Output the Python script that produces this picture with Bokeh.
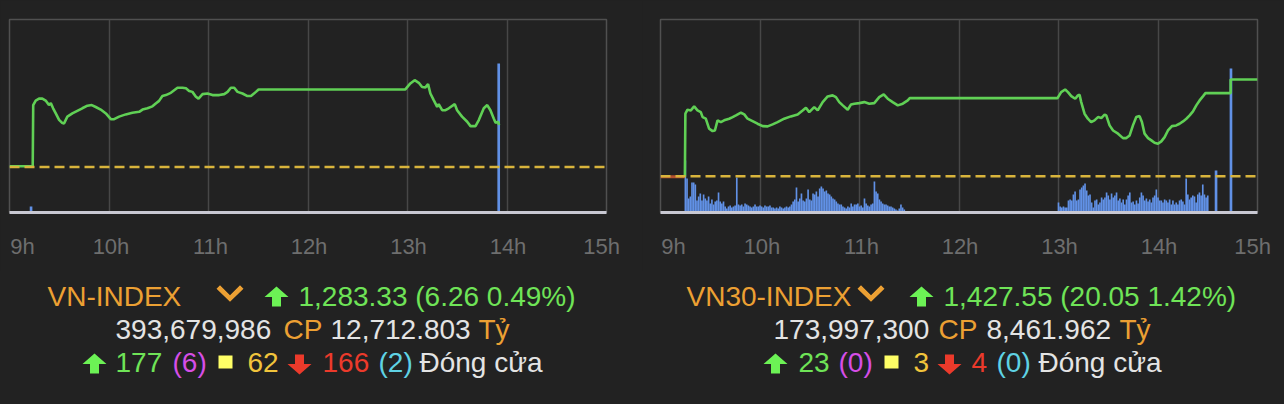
import numpy as np
from bokeh.plotting import figure
from bokeh.models import (Range1d, LinearAxis, FixedTicker, CustomJSTickFormatter,
                          Span, Label, Grid, PolyAnnotation)
from bokeh.layouts import row, column
from bokeh.embed import file_html
from bokeh.resources import INLINE

# ---------------- data ----------------
TICK_HOURS = [9, 10, 11, 12, 13, 14, 15]
TICK_LABELS = ["9h", "10h", "11h", "12h", "13h", "14h", "15h"]
LABEL_NUDGE = [0.13, 0.02, 0.02, 0.01, 0.01, 0.01, -0.05]   # label placement (hours)

# VN-INDEX intraday (minutes after 9:00, index points)
VN_REF = 1277.07
VN_T = [0, 14, 14.3, 15.8, 17.8, 19.8, 21.8, 23.8, 24.9, 26.3, 27.9, 29.9, 31.9, 32.9,
        34.9, 37.9, 40.9, 43.9, 47.0, 49.6, 52.0, 55.0, 58.1, 61.1, 63.1, 66.1, 70.1,
        74.1, 78.2, 80.2, 83.2, 86.2, 88.2, 90.2, 92.2, 94.3, 97.3, 99.3, 101.3, 104.3,
        106.4, 108.3, 110.3, 112.4, 114.0, 116.4, 119.4, 122.4, 126.5, 129.5, 131.5,
        133.5, 135.5, 137.5, 140.5, 143.5, 145.6, 148.6, 150.2, 238.7, 241.7, 244.3,
        246.8, 248.8, 250.8, 252.4, 253.8, 255.8, 257.9, 258.8, 260.9, 262.9, 264.9,
        268.5, 269.9, 272.9, 276.0, 278.0, 281.0, 283.0, 286.0, 288.1, 290.0, 292.0,
        293.1, 294.7, 295.2]
VN_V = [1277.2, 1277.2, 1286.7, 1287.4, 1287.7, 1287.7, 1287.4, 1286.7, 1287.0, 1286.2,
        1285.4, 1284.4, 1283.9, 1283.85, 1284.9, 1285.4, 1285.8, 1286.2, 1286.6, 1286.7,
        1286.4, 1286.0, 1285.4, 1284.5, 1284.5, 1284.9, 1285.25, 1285.5, 1285.65, 1286.0,
        1286.2, 1286.5, 1286.95, 1287.35, 1288.1, 1288.25, 1288.6, 1289.0, 1289.4, 1289.4,
        1289.3, 1288.9, 1288.75, 1288.0, 1287.7, 1288.4, 1288.5, 1288.25, 1288.25, 1288.4,
        1288.75, 1289.4, 1289.4, 1288.75, 1288.5, 1288.1, 1288.1, 1288.75, 1289.13, 1289.13,
        1290.06, 1290.57, 1290.16, 1289.5, 1289.44, 1289.95, 1288.5, 1287.47, 1286.43,
        1286.85, 1285.9, 1285.9, 1286.2, 1286.85, 1285.9, 1284.9, 1284.1, 1283.43, 1283.43,
        1284.36, 1286.2, 1286.7, 1285.9, 1284.6, 1283.95, 1284.1, 1283.6]
VN_VOL_T = [13, 295]
VN_VOL = [6, 149]

# VN30-INDEX intraday
V30_REF = 1407.5
V30_PRE_T = [0, 14.7]
V30_PRE_V = [1407.4, 1407.4]
V30_T = [14.7, 15.0, 16.3, 18.3, 20.3, 22.3, 24.3, 25.4, 27.3, 29.3, 31.4, 32.8, 34.4,
         36.4, 38.4, 41.4, 43.5, 45.5, 48.5, 50.5, 52.5, 55.5, 58.5, 61.6, 64.6, 67.6,
         70.6, 74.6, 78.6, 82.7, 85.7, 87.7, 89.7, 92.7, 94.8, 97.8, 100.8, 103.8, 105.8,
         107.8, 109.9, 112.9, 114.9, 116.9, 119.9, 122.9, 125.9, 128.9, 131.9, 134.6,
         137.0, 140.0, 143.1, 146.1, 149.1, 150.3, 239.4, 241.6, 244.0, 245.7, 247.7,
         250.1, 251.7, 252.7, 253.7, 255.7, 257.7, 259.7, 261.7, 263.8, 265.8, 267.8,
         268.8, 270.8, 272.9, 275.9, 278.9, 280.9, 282.9, 284.9, 286.9, 288.9, 290.3,
         291.9, 294.0, 296.0, 297.9, 300.0, 302.0, 304.0, 306.0, 308.4, 311.0, 313.0,
         315.1, 317.1, 319.1, 321.1, 323.1, 325.1, 327.2, 328.6, 343.8, 343.8, 360.0]
V30_V = [1407.4, 1420.48, 1421.3, 1421.16, 1421.99, 1421.16, 1420.8, 1419.77, 1419.44,
         1417.37, 1416.88, 1417.0, 1419.1, 1418.74, 1419.1, 1419.44, 1419.77, 1420.12,
         1420.68, 1420.33, 1419.44, 1418.94, 1418.4, 1417.9, 1417.85, 1418.26, 1418.74,
         1419.44, 1419.92, 1420.33, 1421.16, 1421.72, 1420.8, 1421.84, 1421.16, 1422.88,
         1424.06, 1424.27, 1423.91, 1422.88, 1422.2, 1421.3, 1422.4, 1422.55, 1422.67,
         1422.88, 1422.55, 1422.67, 1423.91, 1424.47, 1423.58, 1422.88, 1422.2, 1422.55,
         1423.23, 1423.7, 1423.7, 1424.95, 1425.5, 1424.95, 1424.12, 1423.58, 1424.27,
         1424.4, 1422.88, 1420.48, 1419.44, 1418.74, 1419.1, 1419.77, 1419.57, 1420.27,
         1420.12, 1418.06, 1417.0, 1416.34, 1415.42, 1415.42, 1415.98, 1418.06, 1419.77,
         1419.98, 1418.74, 1416.34, 1415.42, 1414.95, 1414.47, 1414.26, 1414.74, 1415.63,
         1417.0, 1417.9, 1418.05, 1418.4, 1418.88, 1419.44, 1420.12, 1420.95, 1422.2,
         1423.23, 1424.12, 1424.74, 1424.74, 1427.55, 1427.55]
V30_VOL_AM_START = 15
V30_VOL_AM = [52, 34, 14, 16, 30, 30, 28, 12, 16, 19, 12, 18, 14, 12, 16, 9, 13, 8, 11, 12,
              20, 11, 9, 11, 6, 4, 6, 7, 5, 6, 7, 35, 8, 7, 8, 6, 9, 8, 7, 6,
              5, 6, 8, 6, 6, 7, 6, 5, 7, 6, 6, 7, 5, 5, 4, 5, 4, 6, 5, 4,
              5, 6, 5, 6, 8, 11, 13, 25, 11, 14, 19, 12, 11, 14, 23, 13, 12, 19, 18, 21,
              16, 24, 26, 24, 21, 22, 19, 18, 16, 14, 13, 11, 9, 8, 8, 6, 5, 4, 6, 5,
              9, 6, 8, 8, 9, 6, 7, 5, 14, 9, 7, 6, 8, 9, 31, 21, 19, 13, 11, 9,
              8, 8, 7, 6, 6, 5, 4, 3, 2, 4, 8, 5, 3, 1]
V30_VOL_PM_START = 240
V30_VOL_PM = [10, 6, 5, 6, 5, 5, 12, 13, 12, 18, 21, 12, 13, 23, 25, 27, 29, 22, 17, 18,
              10, 5, 12, 13, 8, 10, 15, 13, 15, 20, 17, 13, 19, 15, 17, 20, 12, 14, 10, 13,
              8, 13, 17, 20, 10, 11, 8, 12, 9, 15, 20, 17, 12, 14, 11, 13, 10, 15, 17, 23,
              15, 12, 12, 10, 13, 12, 10, 13, 8, 12, 8, 10, 8, 12, 13, 11, 8, 34, 18, 13,
              15, 17, 16, 10, 18, 20, 17, 28, 18, 15, 17]
V30_VOL_X_T = [335, 344]
V30_VOL_X = [42, 144]

VOL_MAX = 193

# text rows
VN_NAME, VN_LAST = "VN-INDEX", "1,283.33 (6.26 0.49%)"
VN_QTY, VN_VAL = "393,679,986", "12,712.803"
VN_UP, VN_CEIL, VN_FLAT, VN_DOWN, VN_FLOOR = "177", "(6)", "62", "166", "(2)"
V30_NAME, V30_LAST = "VN30-INDEX", "1,427.55 (20.05 1.42%)"
V30_QTY, V30_VAL = "173,997,300", "8,461.962"
V30_UP, V30_CEIL, V30_FLAT, V30_DOWN, V30_FLOOR = "23", "(0)", "3", "4", "(0)"
STATUS = "Đóng cửa"

# ---------------- style ----------------
BG = "#222222"
GRID = "#474747"
LINE_GREEN = "#60d055"
DASH = "#d8b43c"
BAR = "#6191e6"
ORANGE = "#eca033"
TXT_GREEN = "#6fe457"
ARR_GREEN = "#6cf255"
WHITE = "#e4e4e4"
MAGENTA = "#d64ee6"
SQ_YELLOW = "#ffff66"
YELLOW = "#f1c43c"
RED = "#ec3a2b"
CYAN = "#5fd2e4"
TICK = "#6e6e6e"
FONT = "Liberation Sans"

# icon outlines (px, x right / y up from the icon's lower-left corner)
ICON_UP = [(0, 9.5), (12, 20), (24, 9.5), (16.5, 9.5), (16.5, 0), (7.5, 0), (7.5, 9.5)]
ICON_DOWN = [(7.5, 20), (16.5, 20), (16.5, 10.5), (24, 10.5), (12, 0), (0, 10.5), (7.5, 10.5)]
ICON_CHEV = [(0, 12.5), (3.5, 16), (13.5, 6), (23.5, 16), (27, 12.5), (13.5, -0.5)]
ICON_SQ = [(0, 0), (14, 0), (14, 13), (0, 13)]

TEXT_H = 132
ROW_Y = [106.5, 73, 39.8]   # text anchor heights, px above the bottom of the text strip


def hours(m):
    return 9 + np.asarray(m, dtype=float) / 60.0


def base_panel(width, yr, ref, bl, br):
    p = figure(width=width, height=270, output_backend="svg", toolbar_location=None,
               x_range=Range1d(9, 15), y_range=Range1d(*yr),
               x_axis_location=None, y_axis_location=None,
               min_border_left=bl, min_border_right=br, min_border_top=19,
               min_border_bottom=58)
    p.background_fill_color = BG
    p.border_fill_color = BG
    p.outline_line_color = "#505050"
    p.outline_line_width = 1.5
    p.grid.visible = False
    p.add_layout(Grid(dimension=0, ticker=FixedTicker(ticks=TICK_HOURS[1:-1]),
                      grid_line_color=GRID, grid_line_width=1.5))
    p.extra_y_ranges = {"vol": Range1d(0, VOL_MAX)}
    label_pos = [h + n for h, n in zip(TICK_HOURS, LABEL_NUDGE)]
    ax = LinearAxis(ticker=FixedTicker(ticks=label_pos),
                    formatter=CustomJSTickFormatter(args=dict(names=TICK_LABELS),
                                                    code="return names[index]"),
                    axis_line_color="#c8c8d2", axis_line_width=3,
                    major_tick_line_color=None, minor_tick_line_color=None,
                    major_label_text_color=TICK, major_label_text_font_size="22px",
                    major_label_text_font=FONT, major_label_standoff=15)
    p.add_layout(ax, "below")
    p.add_layout(Span(location=ref, dimension="width", line_color=DASH,
                      line_width=2.5, line_dash="10 5"))
    return p


def text_strip(width, items, icons):
    t = figure(width=width, height=TEXT_H, output_backend="svg", toolbar_location=None,
               x_range=Range1d(0, 1), y_range=Range1d(0, 1),
               x_axis_location=None, y_axis_location=None,
               min_border=0, min_border_left=0, min_border_right=0,
               min_border_top=0, min_border_bottom=0)
    t.background_fill_color = BG
    t.border_fill_color = BG
    t.outline_line_color = None
    t.grid.visible = False
    for txt, x, r, color in items:
        t.add_layout(Label(x=x, y=ROW_Y[r], x_units="screen", y_units="screen",
                           text=txt, text_color=color, text_font=FONT,
                           text_font_size="28px", text_baseline="alphabetic",
                           text_align="left"))
    for shape, x0, y0, color in icons:
        t.add_layout(PolyAnnotation(xs=[x0 + a for a, b in shape],
                                    ys=[y0 + b for a, b in shape],
                                    xs_units="screen", ys_units="screen",
                                    fill_color=color, fill_alpha=1.0, line_color=None))
    return t


# ---------------- left: VN-INDEX ----------------
p1 = base_panel(642, (1270, 1300), VN_REF, 9, 36)
p1.vbar(x=hours(VN_VOL_T), top=VN_VOL, bottom=0, width=1.6 / 60, y_range_name="vol",
        fill_color=BAR, line_color=None)
p1.line(hours(VN_T), VN_V, line_color=LINE_GREEN, line_width=2.6)
t1 = text_strip(642, [
    (VN_NAME, 47, 0, ORANGE), (VN_LAST, 298, 0, TXT_GREEN),
    (VN_QTY, 115, 1, WHITE), ("CP", 283, 1, ORANGE), (VN_VAL, 330, 1, WHITE),
    ("Tỷ", 478, 1, ORANGE),
    (VN_UP, 115, 2, TXT_GREEN), (VN_CEIL, 172, 2, MAGENTA), (VN_FLAT, 247, 2, YELLOW),
    (VN_DOWN, 322, 2, RED), (VN_FLOOR, 378, 2, CYAN), (STATUS, 419, 2, WHITE),
], [
    (ICON_CHEV, 216, 101.3, ORANGE), (ICON_UP, 264, 96, ARR_GREEN),
    (ICON_UP, 82, 29, ARR_GREEN), (ICON_SQ, 218, 34, SQ_YELLOW),
    (ICON_DOWN, 287, 28, RED),
])

# ---------------- right: VN30-INDEX ----------------
p2 = base_panel(640, (1400, 1440), V30_REF, 18, 25)
am_t = V30_VOL_AM_START + np.arange(len(V30_VOL_AM))
pm_t = V30_VOL_PM_START + np.arange(len(V30_VOL_PM))
p2.vbar(x=hours(am_t), top=V30_VOL_AM, bottom=0, width=1.0 / 60, y_range_name="vol",
        fill_color=BAR, line_color=None)
p2.vbar(x=hours(pm_t), top=V30_VOL_PM, bottom=0, width=1.0 / 60, y_range_name="vol",
        fill_color=BAR, line_color=None)
p2.vbar(x=hours(V30_VOL_X_T), top=V30_VOL_X, bottom=0, width=1.6 / 60, y_range_name="vol",
        fill_color=BAR, line_color=None)
p2.line(hours(V30_PRE_T), V30_PRE_V, line_color="#b4502e", line_width=3)
p2.line(hours(V30_T), V30_V, line_color=LINE_GREEN, line_width=2.6)
t2 = text_strip(640, [
    (V30_NAME, 44, 0, ORANGE), (V30_LAST, 301, 0, TXT_GREEN),
    (V30_QTY, 131, 1, WHITE), ("CP", 296, 1, ORANGE), (V30_VAL, 344, 1, WHITE),
    ("Tỷ", 477, 1, ORANGE),
    (V30_UP, 156, 2, TXT_GREEN), (V30_CEIL, 196, 2, MAGENTA), (V30_FLAT, 271, 2, YELLOW),
    (V30_DOWN, 329, 2, RED), (V30_FLOOR, 354, 2, CYAN), (STATUS, 396, 2, WHITE),
], [
    (ICON_CHEV, 215, 101.3, ORANGE), (ICON_UP, 267, 96, ARR_GREEN),
    (ICON_UP, 121, 29, ARR_GREEN), (ICON_SQ, 242, 34, SQ_YELLOW),
    (ICON_DOWN, 295, 28, RED),
])

layout = column(row(p1, p2, spacing=0), row(t1, t2, spacing=0), spacing=0)
try:
    from bokeh.models import GlobalInlineStyleSheet
    layout.stylesheets = [GlobalInlineStyleSheet(css="body{background:#222222;}")]
except Exception:
    pass

open("out.html", "w").write(file_html(layout, INLINE))
